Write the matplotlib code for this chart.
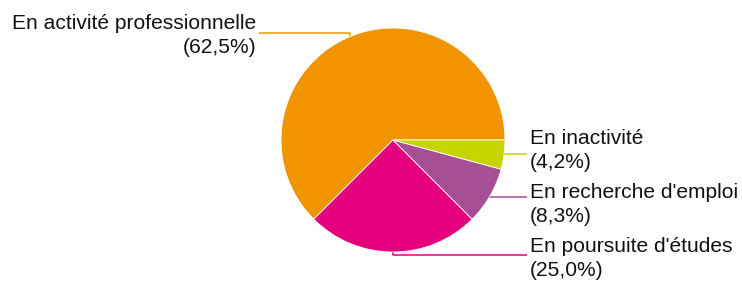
import numpy as np
import matplotlib

matplotlib.use("Agg")
import matplotlib.pyplot as plt

# Data
categories = ["En activité professionnelle", "En poursuite d'études",
              "En recherche d'emploi", "En inactivité"]
shares = [62.5, 25.0, 8.3, 4.2]
pct_labels = ["(62,5%)", "(25,0%)", "(8,3%)", "(4,2%)"]
colors = ["#F29400", "#E4007D", "#A64F97", "#C8D400"]

plt.rcParams['font.family'] = ['Liberation Sans', 'DejaVu Sans']

W, H = 742, 282
fig = plt.figure(figsize=(W / 100, H / 100), dpi=100)
ax = fig.add_axes([0, 0, 1, 1])

# pixel layout: pie centre at (393, 140), radius 112 px
cx, cy, rpx = 393, 140, 112
wedges, _ = ax.pie(shares, colors=colors, startangle=0, counterclock=True,
                   radius=1, center=(0, 0),
                   wedgeprops=dict(edgecolor="white", linewidth=0.6))
ax.set_aspect('auto')
ax.set_xlim(-cx / rpx, (W - cx) / rpx)
ax.set_ylim(-(H - cy) / rpx, cy / rpx)
ax.axis('off')

# layout of the labels (in radius units)
line_dy = [0.031, -0.027, -0.009, 0.005]      # leader row vs. edge point
text_base = [0.991, -1.0, -0.518, -0.036]     # baseline of first text line
line_gap = 0.21
line_x = 1.196
text_x = 1.223

for w, cat, pct, col, dy, tb in zip(wedges, categories, pct_labels, colors,
                                    line_dy, text_base):
    mid = np.deg2rad((w.theta1 + w.theta2) / 2)
    ex, ey = np.cos(mid), np.sin(mid)
    side = 1 if ex > -0.01 else -1
    ly = ey + dy
    ax.plot([ex, ex, side * line_x], [ey, ly, ly], color=col, lw=1.1,
            solid_capstyle='butt', zorder=0)
    for k, s in enumerate([cat, pct]):
        ax.text(side * text_x, tb - k * line_gap, s,
                ha='left' if side > 0 else 'right', va='baseline',
                fontsize=15.1, color='#111111')

fig.savefig("out.png", dpi=100)
